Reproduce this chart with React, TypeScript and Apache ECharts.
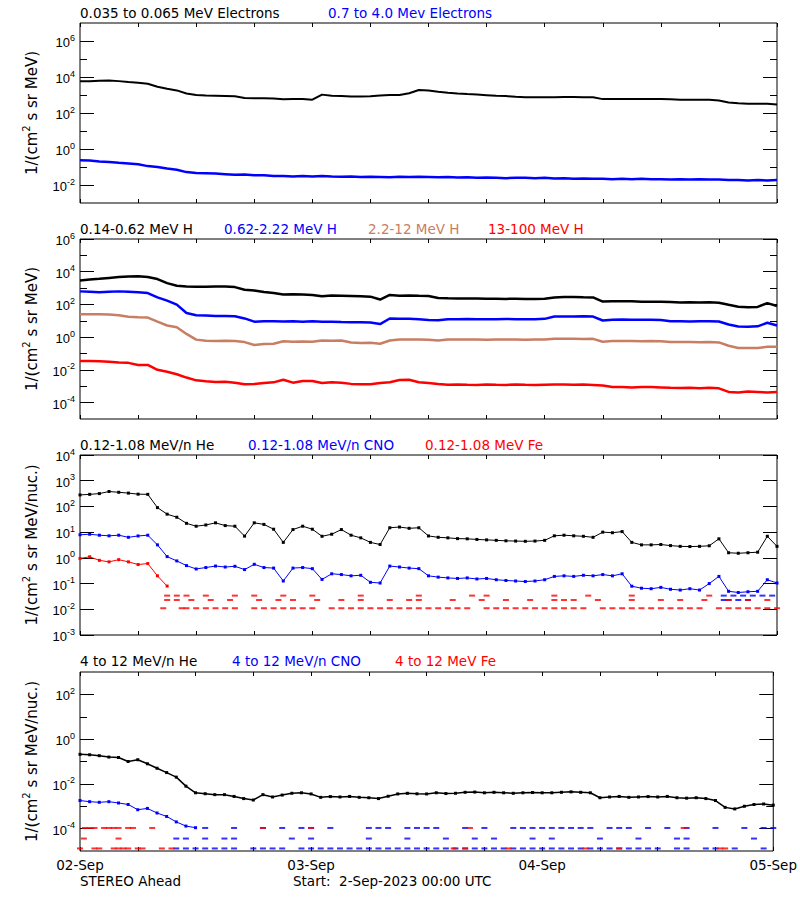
import React, { useEffect, useRef } from "react";
import * as echarts from "echarts";

// ---------- DATA (hourly values, hour 0 = 2-Sep-2023 00:00 UTC) ----------
const dayLabels = ["02-Sep", "03-Sep", "04-Sep", "05-Sep"];

// Panel 1: electrons
const elecLow = [
  5750, 5750, 6170, 6300, 5900, 5250, 4800, 4200, 2900, 2200,
  1800, 1200, 1000, 930, 910, 890, 850, 690, 660, 660,
  630, 575, 600, 600, 550, 1050, 910, 890, 830, 830,
  850, 950, 1000, 1000, 1260, 1900, 1780, 1510, 1320, 1200,
  1120, 1050, 980, 910, 870, 795, 760, 740, 740, 760,
  775, 775, 760, 740, 590, 590, 600, 600, 600, 600,
  590, 575, 550, 550, 550, 550, 500, 380, 345, 330,
  330, 325, 295,
];
const elecHigh = [
  0.234, 0.229, 0.204, 0.19, 0.17, 0.155, 0.141, 0.112, 0.1, 0.083,
  0.071, 0.052, 0.047, 0.045, 0.043, 0.04, 0.037, 0.038, 0.035, 0.035,
  0.032, 0.032, 0.03, 0.032, 0.03, 0.032, 0.03, 0.029, 0.03, 0.028,
  0.029, 0.028, 0.027, 0.029, 0.028, 0.029, 0.028, 0.027, 0.028, 0.026,
  0.027, 0.025, 0.026, 0.025, 0.024, 0.025, 0.025, 0.024, 0.025, 0.023,
  0.024, 0.022, 0.023, 0.022, 0.022, 0.021, 0.022, 0.021, 0.022, 0.021,
  0.021, 0.02, 0.021, 0.02, 0.021, 0.02, 0.02, 0.019, 0.019, 0.018,
  0.019, 0.018, 0.019,
];

// Panel 2: protons
const protonA = [
  2950, 3300, 3700, 4200, 4700, 5100, 5250, 4700, 3550, 2000,
  1380, 1260, 1200, 1200, 1230, 1260, 1150, 800, 720, 575,
  500, 400, 420, 400, 380, 316, 355, 345, 330, 316,
  300, 200, 380, 345, 355, 340, 330, 250, 240, 235,
  235, 230, 224, 224, 219, 224, 214, 219, 224, 270,
  282, 282, 275, 270, 150, 158, 155, 158, 148, 148,
  145, 141, 132, 138, 132, 135, 126, 95, 72, 68,
  71, 120, 80,
];
const protonB = [
  630, 600, 560, 600, 630, 590, 550, 500, 270, 170,
  98, 30, 22, 21, 20, 20, 19, 14, 8.9, 9.3,
  9.5, 9.1, 9.5, 8.9, 9.3, 8.7, 8.9, 8.5, 8.3, 8.1,
  7.9, 6.3, 13.8, 13.2, 13.2, 12.6, 11.2, 10.7, 12.6, 12.6,
  12.9, 12.6, 12.3, 12.6, 12.9, 12.6, 12.3, 12.6, 13.2, 18.2,
  18.6, 18.2, 19.0, 18.2, 10.5, 11.7, 12.0, 11.7, 11.5, 11.7,
  11.2, 9.3, 9.5, 9.1, 9.3, 9.5, 9.1, 6.0, 4.5, 4.4,
  4.6, 7.6, 5.2,
];
const protonC = [
  25, 25, 25, 24, 22, 18, 16.6, 15.8, 8.9, 5.2,
  4.0, 1.58, 0.71, 0.6, 0.575, 0.6, 0.575, 0.5, 0.33, 0.38,
  0.4, 0.56, 0.525, 0.54, 0.525, 0.63, 0.6, 0.62, 0.47, 0.44,
  0.45, 0.4, 0.63, 0.72, 0.71, 0.72, 0.69, 0.63, 0.71, 0.71,
  0.72, 0.71, 0.7, 0.71, 0.72, 0.71, 0.7, 0.71, 0.72, 0.79,
  0.8, 0.79, 0.78, 0.79, 0.525, 0.575, 0.58, 0.575, 0.57, 0.575,
  0.56, 0.5, 0.51, 0.5, 0.49, 0.5, 0.48, 0.3, 0.22, 0.22,
  0.22, 0.26, 0.26,
];
const protonD = [
  0.035, 0.035, 0.034, 0.032, 0.028, 0.027, 0.02, 0.02, 0.0102, 0.0078,
  0.0054, 0.0034, 0.0023, 0.002, 0.0018, 0.0019, 0.00166, 0.00132, 0.00138, 0.00158,
  0.00174, 0.0025, 0.00166, 0.0021, 0.0021, 0.00158, 0.00174, 0.00166, 0.0014, 0.00132,
  0.00132, 0.00158, 0.00178, 0.0024, 0.0025, 0.00178, 0.00158, 0.0014, 0.00125, 0.0013,
  0.00122, 0.0012, 0.0013, 0.00122, 0.0012, 0.0013, 0.00122, 0.0012, 0.00125, 0.0013,
  0.0013, 0.00125, 0.0013, 0.0012, 0.0011, 0.00089, 0.0009, 0.00085, 0.0009, 0.00089,
  0.00085, 0.0008, 0.00078, 0.0008, 0.00076, 0.0008, 0.00075, 0.00045, 0.00042, 0.00048,
  0.00045, 0.00042, 0.00045,
];

// Panel 3: 0.12-1.08 MeV/n heavy ions
const heLow = [
  280, 295, 316, 380, 355, 330, 300, 295, 90, 50,
  38, 22, 17, 19, 23, 18, 17, 7, 23, 20,
  13, 4.0, 12.6, 17, 13, 6.9, 8.3, 12.6, 7.6, 6.0,
  4.0, 3.3, 14.8, 15.8, 14.1, 14.8, 7.1, 6.3, 6.0, 5.6,
  5.5, 5.2, 5.0, 4.8, 4.6, 4.5, 4.4, 4.5, 4.8, 7.2,
  7.6, 7.2, 6.9, 6.3, 10, 9.5, 10.5, 4.0, 3.2, 3.2,
  3.3, 3.0, 2.8, 2.75, 2.8, 2.95, 5.5, 1.58, 1.51, 1.58,
  1.66, 6.9, 2.8,
];
const cnoLow = [
  7.9, 8.3, 7.6, 7.2, 7.6, 6.3, 7.1, 7.6, 3.2, 1.12,
  0.76, 0.5, 0.37, 0.42, 0.48, 0.44, 0.47, 0.35, 0.56, 0.42,
  0.4, 0.126, 0.4, 0.42, 0.38, 0.145, 0.24, 0.224, 0.2, 0.21,
  0.112, 0.105, 0.48, 0.44, 0.4, 0.38, 0.2, 0.178, 0.166, 0.158,
  0.166, 0.151, 0.158, 0.141, 0.132, 0.126, 0.12, 0.126, 0.141, 0.19,
  0.2, 0.19, 0.21, 0.2, 0.224, 0.2, 0.24, 0.079, 0.066, 0.063,
  0.071, 0.06, 0.056, 0.063, 0.056, 0.1, 0.19, 0.05, 0.045, 0.048,
  0.05, 0.141, 0.105,
];
const cnoLowLevelHi = 0.034;
const cnoLowHiHours = [66.5, 67.5, 68.5, 69.5, 70.5, 71.5];
const cnoLowLevelMid = 0.023;
const cnoLowMidHours = [66.5, 67, 68, 69];
const feLowEarly = [0.95, 1.1, 0.8, 0.7, 0.85, 0.7, 0.55, 0.6, 0.2, 0.08];
const feLowLevelHi = 0.034;
const feLowHiHours = [9, 10, 11, 13, 16, 18, 21, 24, 29, 35, 40.5, 42, 49, 52.5, 57, 65];
const feLowLevelMid = 0.023;
const feLowMidHours = [9, 10, 11.5, 13.5, 15.5, 18.5, 20.5, 22, 24.5, 27, 29, 32, 34, 35, 38.5, 41.5, 44, 46.5, 49, 50, 51, 53.5, 57, 60, 62, 64.5, 67, 69, 71];
const feLowLevelLo = 0.011;
const feLowLoHours = [
  8.6, 10.5, 11, 12, 13, 14, 15, 16, 18, 19, 20, 21, 22, 23, 24, 26, 27, 28, 29, 30,
  31, 32, 33, 34, 35, 36, 37, 38, 39, 40, 42, 43, 44, 45, 46, 47, 48, 49, 50, 51,
  52, 54, 55, 56, 57, 58, 59, 60, 61, 62, 63, 64, 66, 67, 68, 69, 70, 71, 72,
];

// Panel 4: 4-12 MeV/n heavy ions
const heHigh = [
  0.209, 0.2, 0.182, 0.158, 0.151, 0.1, 0.12, 0.079, 0.05, 0.032,
  0.02, 0.0079, 0.004, 0.00363, 0.0033, 0.0033, 0.00275, 0.0022, 0.0019, 0.0033,
  0.0026, 0.00316, 0.0038, 0.004, 0.00355, 0.0025, 0.0027, 0.0026, 0.00275, 0.0025,
  0.0024, 0.0022, 0.0028, 0.00355, 0.0038, 0.0036, 0.00355, 0.004, 0.0037, 0.0038,
  0.0042, 0.0043, 0.004, 0.0042, 0.004, 0.0038, 0.004, 0.0041, 0.004, 0.004,
  0.0042, 0.0044, 0.0042, 0.004, 0.0024, 0.0026, 0.00275, 0.0025, 0.0026, 0.0027,
  0.0026, 0.00275, 0.0024, 0.0023, 0.0024, 0.0022, 0.0018, 0.00089, 0.00076, 0.001,
  0.0012, 0.00126, 0.00112,
];
const cnoHighEarly = [0.0018, 0.0016, 0.0015, 0.0016, 0.0014, 0.0012, 0.0007, 0.0008, 0.0005, 0.00035, 0.0002, 0.00013, 0.00011];
const highLevelHi = 1.07e-4;
const highLevelMid = 3.6e-5;
const highLevelLo = 1.3e-5;
const cnoHighHiHours = [13, 16, 19, 21, 23, 24, 26, 30, 31, 32, 34, 35, 36, 37, 40, 42, 45, 46, 47, 48, 49, 50, 51, 52, 53, 55, 56, 57, 59, 61, 63, 66, 69, 71, 72];
const cnoHighMidHours = [10, 11, 13, 15, 16, 22, 24, 30, 34, 38, 41, 43, 47, 49, 54, 58, 62, 63, 70];
const cnoHighLoHours = [
  10, 11, 12, 13, 14, 15, 16, 18, 19, 20, 21, 23, 24, 25, 26, 27, 28, 29, 30, 31,
  32, 33, 34, 35, 36, 37, 38, 39, 40, 41, 42, 43, 44, 45, 46, 47, 48, 49, 50, 51,
  52, 53, 54, 55, 56, 57, 58, 59, 60, 62, 63, 65, 66, 68, 71,
];
const feHighHiHours = [0.5, 1, 1.5, 2.5, 3, 3.5, 4, 5, 5.5, 7.5, 19, 24, 40.5, 62.7];
const feHighMidHours = [0.4, 4];
const feHighLoHours = [0, 1.5, 2, 3.5, 4, 4.5, 5, 6, 6.5, 8.5, 9.5, 38.8, 40, 44.5, 52.5, 56, 66.5, 67];

// ---------- STYLE / LAYOUT ----------
const FONT = "DejaVu Sans";
const BLACK = "#000000";
const BLUE = "#0000ff";
const RED = "#ff0000";
const BROWN = "#c87e63";

const gridBoxes = [
  { top: 23, height: 180 },
  { top: 239, height: 180 },
  { top: 455, height: 180 },
  { top: 672, height: 179 },
];
const yRanges = [
  { min: -3, max: 7, major: [-2, 0, 2, 4, 6], minor: [-1, 1, 3, 5], name: "1/(cm{s|2} s sr MeV)" },
  { min: -5, max: 6, major: [-4, -2, 0, 2, 4, 6], minor: [-3, -1, 1, 3, 5], name: "1/(cm{s|2} s sr MeV)" },
  { min: -3, max: 4, major: [-3, -2, -1, 0, 1, 2, 3, 4], minor: [], name: "1/(cm{s|2} s sr MeV/nuc.)" },
  { min: -5, max: 3, major: [-4, -2, 0, 2], minor: [-3, -1, 1], name: "1/(cm{s|2} s sr MeV/nuc.)" },
];
const titles: [string, number, number, string][] = [
  ["0.035 to 0.065 MeV Electrons", 80, 13, BLACK],
  ["0.7 to 4.0 Mev Electrons", 328, 13, BLUE],
  ["0.14-0.62 MeV H", 80, 229, BLACK],
  ["0.62-2.22 MeV H", 224, 229, BLUE],
  ["2.2-12 MeV H", 368, 229, BROWN],
  ["13-100 MeV H", 488, 229, RED],
  ["0.12-1.08 MeV/n He", 80, 445, BLACK],
  ["0.12-1.08 MeV/n CNO", 248, 445, BLUE],
  ["0.12-1.08 MeV Fe", 425, 445, RED],
  ["4 to 12 MeV/n He", 80, 661, BLACK],
  ["4 to 12 MeV/n CNO", 232, 661, BLUE],
  ["4 to 12 MeV Fe", 395, 661, RED],
  ["STEREO Ahead", 80, 881, BLACK],
  ["Start:  2-Sep-2023 00:00 UTC", 293, 881, BLACK],
];

const pow10 = (e: number) => Math.pow(10, e);

function makeYAxes(g: number) {
  const r = yRanges[g];
  const base = {
    type: "log",
    logBase: 10,
    gridIndex: g,
    min: pow10(r.min),
    max: pow10(r.max),
    axisLine: { show: false },
    splitLine: { show: false },
    minorTick: { show: false },
    minorSplitLine: { show: false },
  };
  const mk = (pos: string, exps: number[], len: number, withLabels: boolean) => {
    const ax: any = {
      ...base,
      position: pos,
      axisTick: {
        show: exps.length > 0,
        inside: true,
        length: len,
        customValues: exps.map(pow10),
        lineStyle: { color: BLACK, width: 1 },
      },
      axisLabel: { show: false },
    };
    if (withLabels) {
      ax.axisLabel = {
        show: true,
        customValues: exps.map(pow10),
        margin: 5,
        formatter: (v: number) => `{b|10}{s|${Math.round(Math.log10(v))}}`,
        rich: {
          b: { fontFamily: "Liberation Sans", fontSize: 13, color: BLACK, lineHeight: 16, verticalAlign: "bottom" },
          s: { fontFamily: "Liberation Sans", fontSize: 9, color: BLACK, lineHeight: 11, verticalAlign: "top" },
        },
      };
      ax.name = r.name;
      ax.nameLocation = "middle";
      ax.nameRotate = 90;
      ax.nameGap = 38;
      ax.nameTextStyle = {
        fontFamily: FONT,
        fontSize: 15,
        color: BLACK,
        lineHeight: 20,
        rich: { s: { fontFamily: FONT, fontSize: 10, color: BLACK, lineHeight: 12, verticalAlign: "top" } },
      };
    }
    return ax;
  };
  return [mk("left", r.major, 14, true), mk("left", r.minor, 7, false), mk("right", r.major, 14, false), mk("right", r.minor, 7, false)];
}

function makeXAxes(g: number) {
  const base = {
    type: "value",
    gridIndex: g,
    min: 0,
    max: 72,
    interval: 6,
    axisLine: { show: false },
    splitLine: { show: false },
    axisTick: { show: true, inside: true, length: 4, lineStyle: { color: BLACK, width: 1 } },
  };
  return [
    {
      ...base,
      position: "bottom",
      axisLabel:
        g === 3
          ? {
              show: true,
              margin: 7,
              fontFamily: FONT,
              fontSize: 13.5,
              color: BLACK,
              showMinLabel: true,
              showMaxLabel: true,
              formatter: (v: number) => (v % 24 === 0 ? dayLabels[v / 24] : ""),
            }
          : { show: false },
    },
    { ...base, position: "top", axisLabel: { show: false } },
  ];
}

const hourly = (arr: number[]) => arr.map((v, i) => [i, v]);

function lineSeries(g: number, arr: number[], color: string, width: number, sym = 0) {
  return {
    type: "line",
    xAxisIndex: 2 * g,
    yAxisIndex: 4 * g,
    data: hourly(arr),
    lineStyle: { color, width },
    itemStyle: { color },
    showSymbol: sym > 0,
    symbol: "rect",
    symbolSize: sym,
    silent: true,
  };
}
function rowSeries(g: number, hours: number[], level: number, color: string) {
  return {
    type: "scatter",
    xAxisIndex: 2 * g,
    yAxisIndex: 4 * g,
    data: hours.map((h) => [h, level]),
    symbol: "rect",
    symbolSize: [6, 2],
    itemStyle: { color },
    silent: true,
  };
}

export default function App() {
  const ref = useRef<HTMLDivElement>(null);
  useEffect(() => {
    if (!ref.current) return;
    const chart = echarts.init(ref.current, undefined, { renderer: "svg" });
    const option: any = {
      animation: false,
      backgroundColor: "#ffffff",
      title: titles.map(([text, x, y, color]) => ({
        text,
        left: x,
        top: y - 8,
        padding: 0,
        textStyle: { fontFamily: FONT, fontSize: 13.5, fontWeight: "normal", color, lineHeight: 16 },
      })),
      grid: gridBoxes.map((b) => ({
        left: 80,
        width: 697,
        top: b.top,
        height: b.height,
        show: true,
        borderColor: BLACK,
        borderWidth: 1,
        backgroundColor: "transparent",
      })),
      xAxis: [0, 1, 2, 3].flatMap(makeXAxes),
      yAxis: [0, 1, 2, 3].flatMap(makeYAxes),
      series: [
        lineSeries(0, elecLow, BLACK, 2),
        lineSeries(0, elecHigh, BLUE, 2.5),
        lineSeries(1, protonA, BLACK, 2.5),
        lineSeries(1, protonB, BLUE, 2.5),
        lineSeries(1, protonC, BROWN, 2.5),
        lineSeries(1, protonD, RED, 2.5),
        lineSeries(2, heLow, BLACK, 1, 3),
        lineSeries(2, cnoLow, BLUE, 1, 3),
        rowSeries(2, cnoLowHiHours, cnoLowLevelHi, BLUE),
        rowSeries(2, cnoLowMidHours, cnoLowLevelMid, BLUE),
        lineSeries(2, feLowEarly, RED, 1, 3),
        rowSeries(2, feLowHiHours, feLowLevelHi, RED),
        rowSeries(2, feLowMidHours, feLowLevelMid, RED),
        rowSeries(2, feLowLoHours, feLowLevelLo, RED),
        lineSeries(3, heHigh, BLACK, 1.5, 3),
        lineSeries(3, cnoHighEarly, BLUE, 1, 3),
        rowSeries(3, cnoHighHiHours, highLevelHi, BLUE),
        rowSeries(3, cnoHighMidHours, highLevelMid, BLUE),
        rowSeries(3, cnoHighLoHours, highLevelLo, BLUE),
        rowSeries(3, feHighHiHours, highLevelHi, RED),
        rowSeries(3, feHighMidHours, highLevelMid, RED),
        rowSeries(3, feHighLoHours, highLevelLo, RED),
      ],
    };
    chart.setOption(option);
    return () => chart.dispose();
  }, []);
  return <div ref={ref} style={{ position: "absolute", left: 0, top: 0, width: 800, height: 900 }} />;
}
